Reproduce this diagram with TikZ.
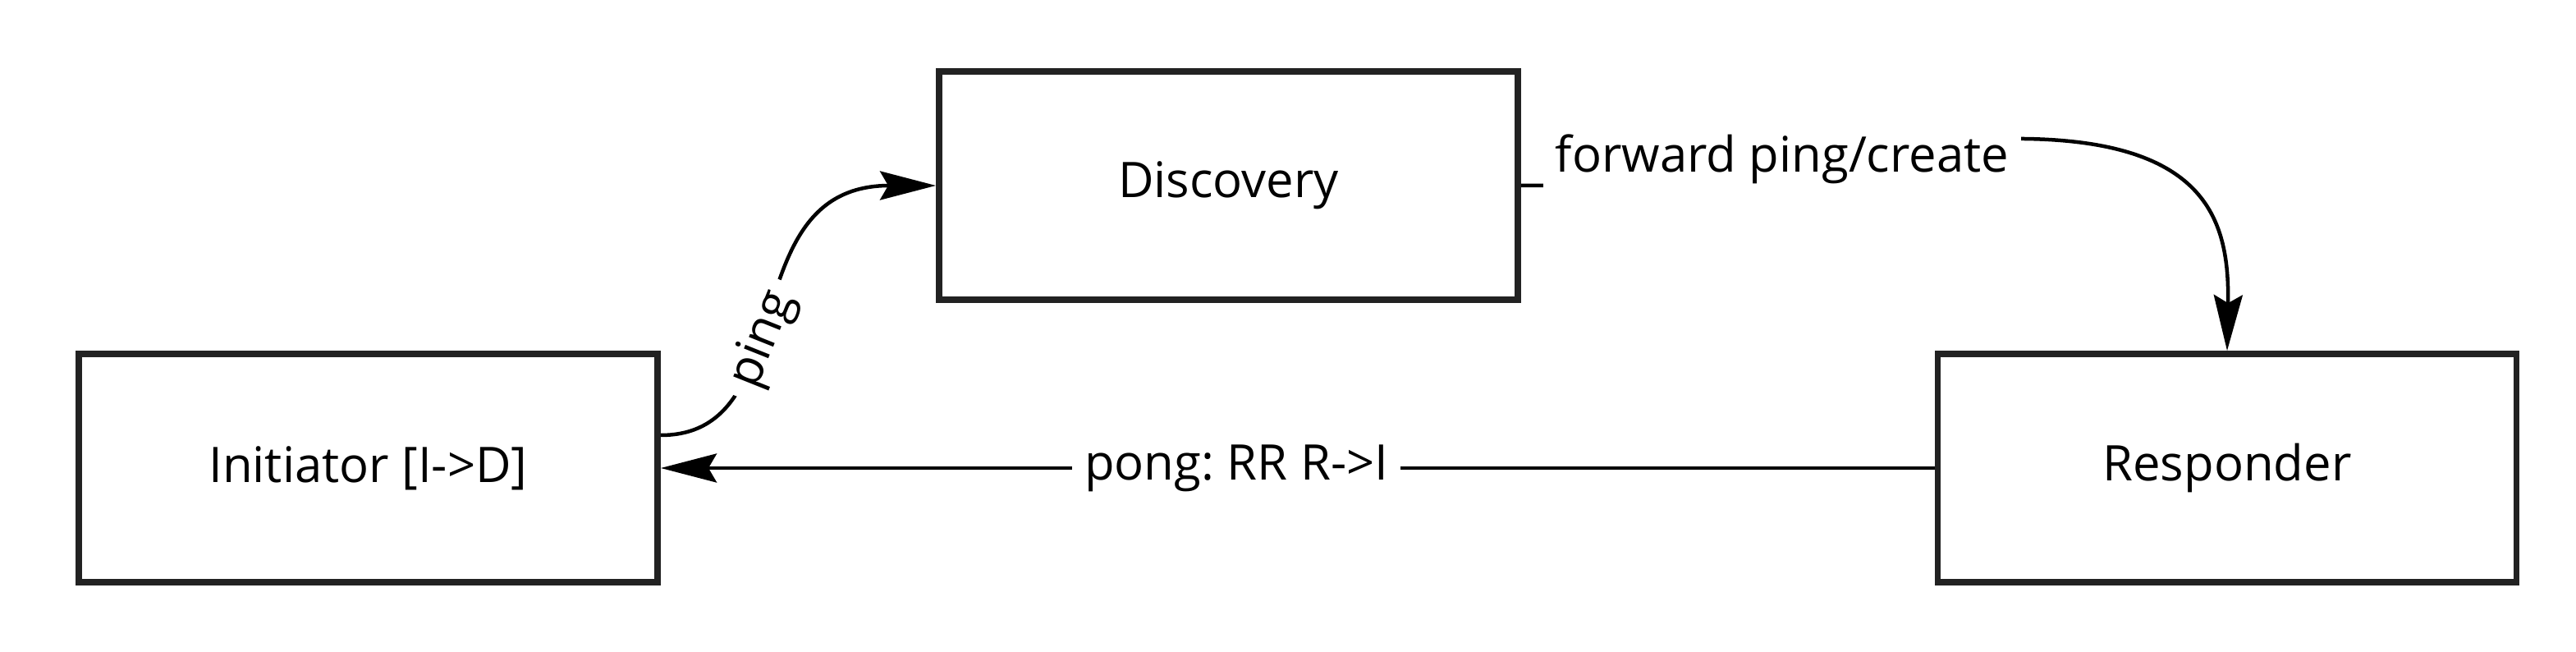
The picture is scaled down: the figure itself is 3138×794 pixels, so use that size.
\documentclass[tikz,border=0pt]{standalone}
\usepackage{fontspec}
\setmainfont{Open Sans}
\usetikzlibrary{arrows.meta}
\definecolor{boxc}{HTML}{222222}
\frenchspacing
\begin{document}
\begin{tikzpicture}[x=0.01cm,y=-0.01cm,
  box/.style={draw=boxc, line width=0.075cm, minimum width=7.05cm, minimum height=2.78cm, inner sep=0pt, font=\fontsize{17pt}{20pt}\selectfont, text=black},
  conn/.style={line width=0.045cm, -{Stealth[length=0.68cm,width=0.35cm,inset=0.1cm]}},
  lbl/.style={fill=white, font=\fontsize{17pt}{20pt}\selectfont, inner xsep=0.15cm, inner ysep=0.05cm}]
\useasboundingbox[fill=white] (0,0) rectangle (3138,794);
\node[box] (D) at (1496.5,226) {Discovery};
\node[box] (I) at (448.5,570) {Initiator [I->D]};
\node[box] (R) at (2713,570) {Responder};
\draw[conn] ([yshift=0.4cm]I.east) .. controls (980,530) and (890,226) .. node[lbl, sloped, pos=0.42] (pl) {ping} (D.west);
\draw[conn] (D.east) -- (1900,226) .. controls (1960,226) and (1950,169) .. (2020,169) -- (2466,169) .. controls (2690,172) and (2716,270) .. (R.north);
\node[lbl, anchor=base] (fl) at (2171,210) {forward ping/create};
\draw[conn] (R.west) -- node[lbl, pos=0.548] (pg) {pong: RR R->I} (I.east);
\end{tikzpicture}
\end{document}
